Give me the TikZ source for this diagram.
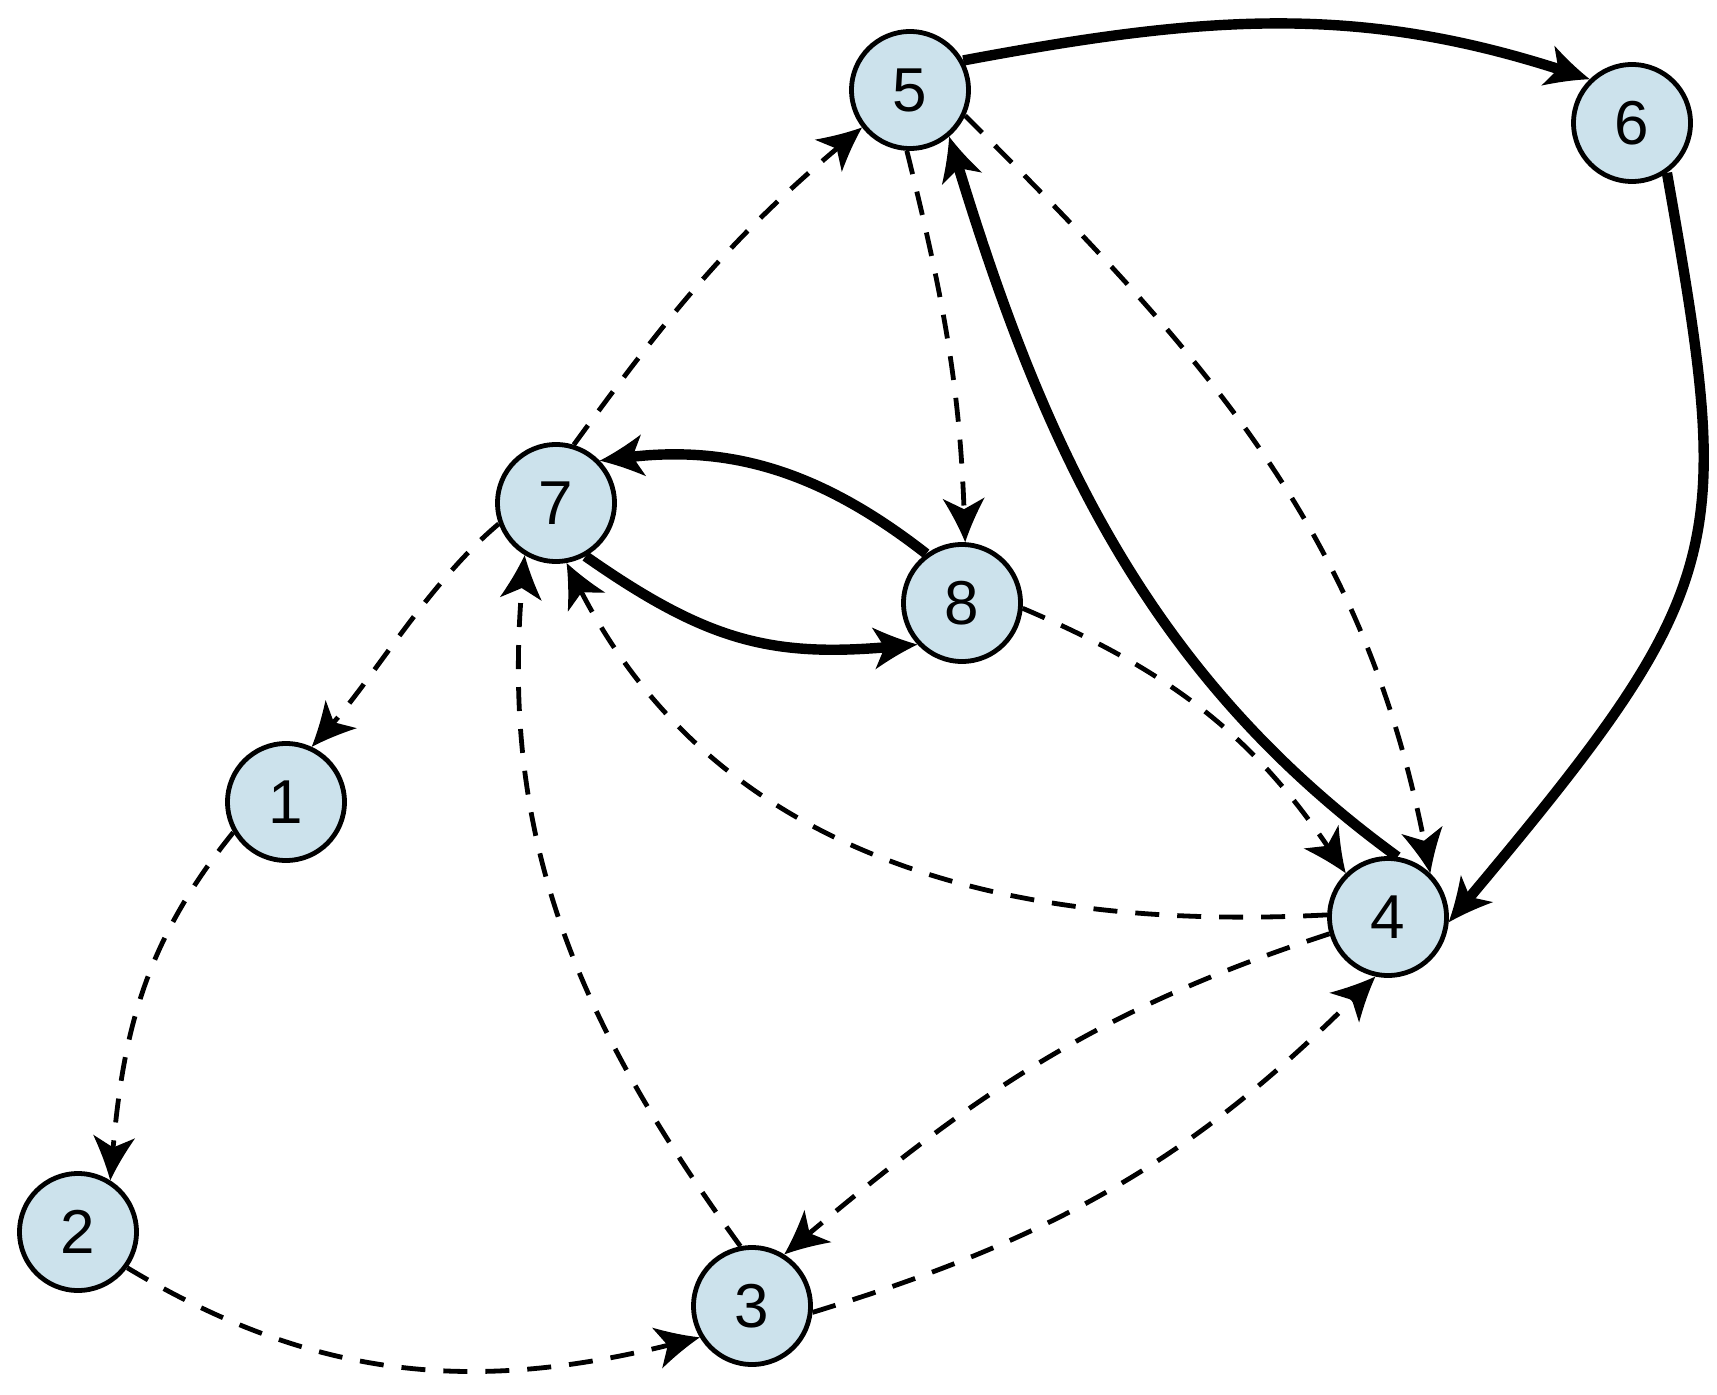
\documentclass[tikz,border=0pt]{standalone}
\usepackage{fontspec}
\setmainfont{Liberation Sans}
\usetikzlibrary{arrows.meta}
\definecolor{nodeblue}{RGB}{204,226,236}
\pgfdeclarearrow{
  name = CS,
  setup code = {
    \pgfarrowssettipend{0pt}
    \pgfarrowssetlineend{-14pt}
    \pgfarrowssetbackend{-22pt}
    \pgfarrowsupperhullpoint{0pt}{0pt}
    \pgfarrowsupperhullpoint{-22pt}{10.5pt}
  },
  drawing code = {
    \pgfpathmoveto{\pgfpointorigin}
    \pgfpathcurveto{\pgfpoint{-8pt}{3pt}}{\pgfpoint{-15pt}{6.5pt}}{\pgfpoint{-22pt}{10.5pt}}
    \pgfpathlineto{\pgfpoint{-16.5pt}{0pt}}
    \pgfpathlineto{\pgfpoint{-22pt}{-10.5pt}}
    \pgfpathcurveto{\pgfpoint{-15pt}{-6.5pt}}{\pgfpoint{-8pt}{-3pt}}{\pgfpointorigin}
    \pgfpathclose
    \pgfusepathqfill
  }
}
\tikzset{
  vertex/.style={circle, draw=black, line width=2.4pt, fill=nodeblue,
    minimum size=58.5pt, inner sep=0pt,
    font=\fontsize{31}{31}\selectfont},
  thickedge/.style={line width=5.2pt, -CS},
  dashedge/.style={line width=2.4pt, dash pattern=on 12pt off 9pt, -CS},
}
\begin{document}
\begin{tikzpicture}[x=0.5pt,y=0.5pt]
\useasboundingbox[fill=white] (0,0) rectangle (1717,-1395);
\node[vertex] (n1) at (286,-802) {1};
\node[vertex] (n2) at (78,-1232) {2};
\node[vertex] (n3) at (752,-1306) {3};
\node[vertex] (n4) at (1388,-917) {4};
\node[vertex] (n5) at (910,-90) {5};
\node[vertex] (n6) at (1632,-123) {6};
\node[vertex] (n7) at (556,-503) {7};
\node[vertex] (n8) at (962,-603) {8};
% thick edges
\draw[thickedge] (n5.29) to[out=10.6, in=162] (n6.134);
\draw[thickedge] (n6.-55) to[out=-80, in=50, out looseness=1.25, in looseness=1.45] (n4.-5);
\draw[thickedge] (n4.81) to[out=144, in=-73, looseness=0.95] (n5.-50);
\draw[thickedge] (n7.-61) to[out=-35, in=185, looseness=1.1] (n8.223);
\draw[thickedge] (n8.126) to[out=142, in=7] (n7.44);
% dashed edges
\draw[dashedge] (n7.73) to[out=54, in=220] (n5.218);
\draw[dashedge] (n5.-93) to[out=-76, in=92] (n8.87);
\draw[dashedge] (n5.-25) to[out=-45, in=101] (n4.46);
\draw[dashedge] (n8.-5) to[out=-23, in=124] (n4.134);
\draw[dashedge] (n4.178) to[out=183, in=-63] (n7.-80);
\draw[dashedge] (n7.200) to[out=220, in=48, looseness=0.8] (n1.65);
\draw[dashedge] (n1.210) to[out=231, in=85] (n2.58);
\draw[dashedge] (n2.-36) to[out=-31, in=194] (n3.211);
\draw[dashedge] (n3.101) to[out=126, in=-95] (n7.239);
\draw[dashedge] (n4.196) to[out=198, in=40] (n3.58);
\draw[dashedge] (n3.-6) to[out=17, in=225] (n4.258);
\end{tikzpicture}
\end{document}
